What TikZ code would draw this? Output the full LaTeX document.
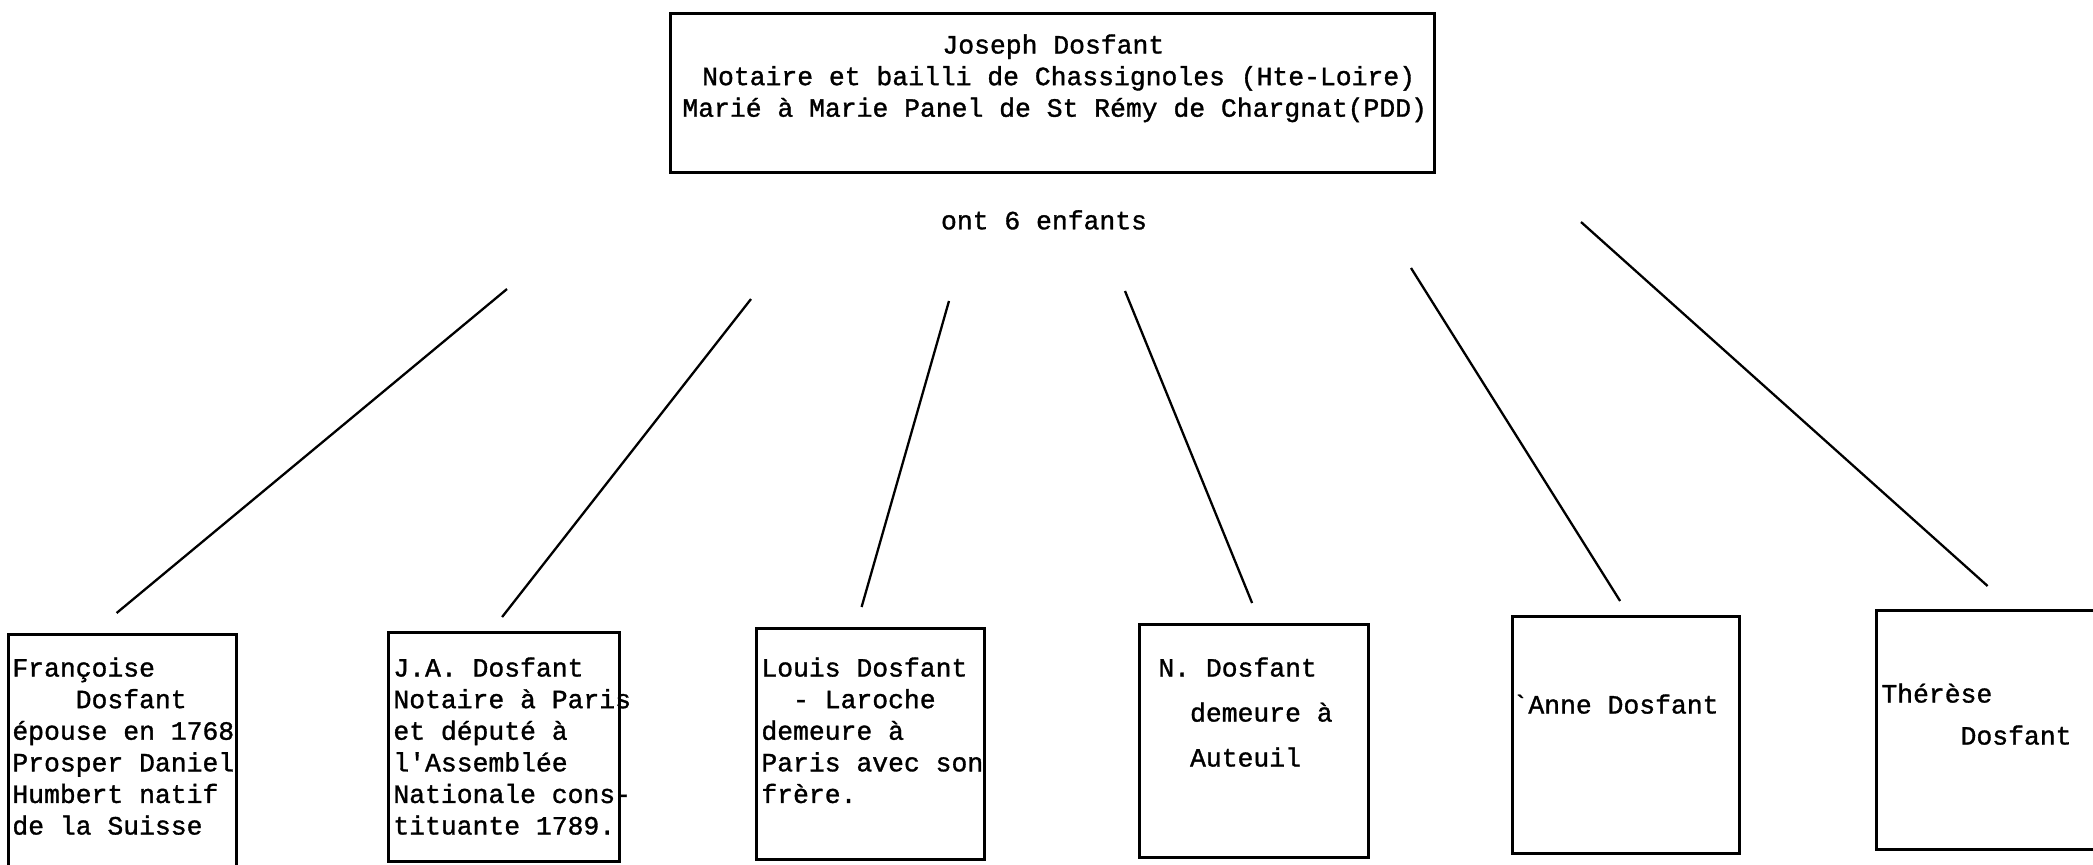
\documentclass[tikz,border=0pt]{standalone}
\usepackage{fontspec}
\setmonofont[FakeBold=1.2]{Liberation Mono}
\usepackage{tikz}
\usetikzlibrary{positioning}
\tikzset{
  famtext/.style={
    font=\ttfamily\fontsize{13.2}{15.8}\selectfont, align=left,
    inner sep=0pt, anchor=north west, execute at begin node=\strut
  },
  famtop/.style={draw, line width=1.5pt, inner sep=0pt, anchor=north west,
    minimum width=382pt, minimum height=79.5pt},
  kidbox/.style={draw, line width=1.6pt, inner sep=0pt, anchor=north west},
  kin/.style={line width=1.15pt}
}
\begin{document}
\begin{tikzpicture}[x=0.5pt, y=0.5pt]
  \useasboundingbox (0,0) rectangle (2093,-864);
  \node[famtop] (jos) at (669,-12) {};
  \node[famtext, below right=11pt and 6.5pt of jos.north west] (josTxt)
    {\hspace*{9.85em}Joseph Dosfant\\\hspace*{0.75em}Notaire et bailli de Chassignoles (Hte-Loire)\\Marié à Marie Panel de St Rémy de Chargnat(PDD)};
  \node[famtext, anchor=center] (kids) at (1044,-223) {ont 6 enfants};

  \node[kidbox, minimum width=114pt, minimum height=150pt] (fran) at (7,-633) {};
  \node[kidbox, minimum width=115.5pt, minimum height=114.5pt] (ja) at (387,-631) {};
  \node[kidbox, minimum width=114pt, minimum height=115.5pt] (louis) at (755,-627) {};
  \node[kidbox, minimum width=114.5pt, minimum height=116.5pt] (nn) at (1138,-623) {};
  \node[kidbox, minimum width=113.5pt, minimum height=118.5pt] (anne) at (1511,-615) {};
  \node[kidbox, minimum width=115pt, minimum height=119.5pt] (therese) at (1875,-609) {};

  \node[famtext, below right=12pt and 2.5pt of fran.north west] (franTxt)
    {Françoise\\\hspace*{2.4em}Dosfant\\épouse en 1768\\Prosper Daniel\\Humbert natif\\de la Suisse};
  \node[famtext, below right=13pt and 3pt of ja.north west] (jaTxt)
    {J.A. Dosfant\\Notaire à Paris\\et député à\\l'Assemblée\\Nationale cons-\\tituante 1789.};
  \node[famtext, below right=15pt and 3pt of louis.north west] (louisTxt)
    {Louis Dosfant\\\hspace*{1.2em}- Laroche\\demeure à\\Paris avec son\\frère.};
  \node[famtext, below right=17pt and 10pt of nn.north west] (nnTxt)
    {N. Dosfant\\[6.7pt]\hspace*{1.2em}demeure à\\[6.7pt]\hspace*{1.2em}Auteuil};
  \node[famtext, below right=38pt and 8.5pt of anne.north west] (anneTxt)
    {\llap{`}Anne Dosfant};
  \node[famtext, below right=37pt and 3pt of therese.north west] (thereseTxt)
    {Thérèse\\[5.2pt]\hspace*{3em}Dosfant};

  \coordinate (a1) at (507,-289);
  \coordinate (a2) at (751,-299);
  \coordinate (a3) at (949,-301);
  \coordinate (a4) at (1125,-291);
  \coordinate (a5) at (1411,-268);
  \coordinate (a6) at (1581,-222);
  \draw[kin] (a1) -- ([shift={(-3pt,10pt)}]fran.north);
  \draw[kin] (a2) -- ([shift={(-1pt,7pt)}]ja.north);
  \draw[kin] (a3) -- ([shift={(-4.5pt,10pt)}]louis.north);
  \draw[kin] (a4) -- ([shift={(-1pt,10pt)}]nn.north);
  \draw[kin] (a5) -- ([shift={(-3pt,7pt)}]anne.north);
  \draw[kin] (a6) -- ([shift={(-2pt,11.5pt)}]therese.north);
\end{tikzpicture}
\end{document}
